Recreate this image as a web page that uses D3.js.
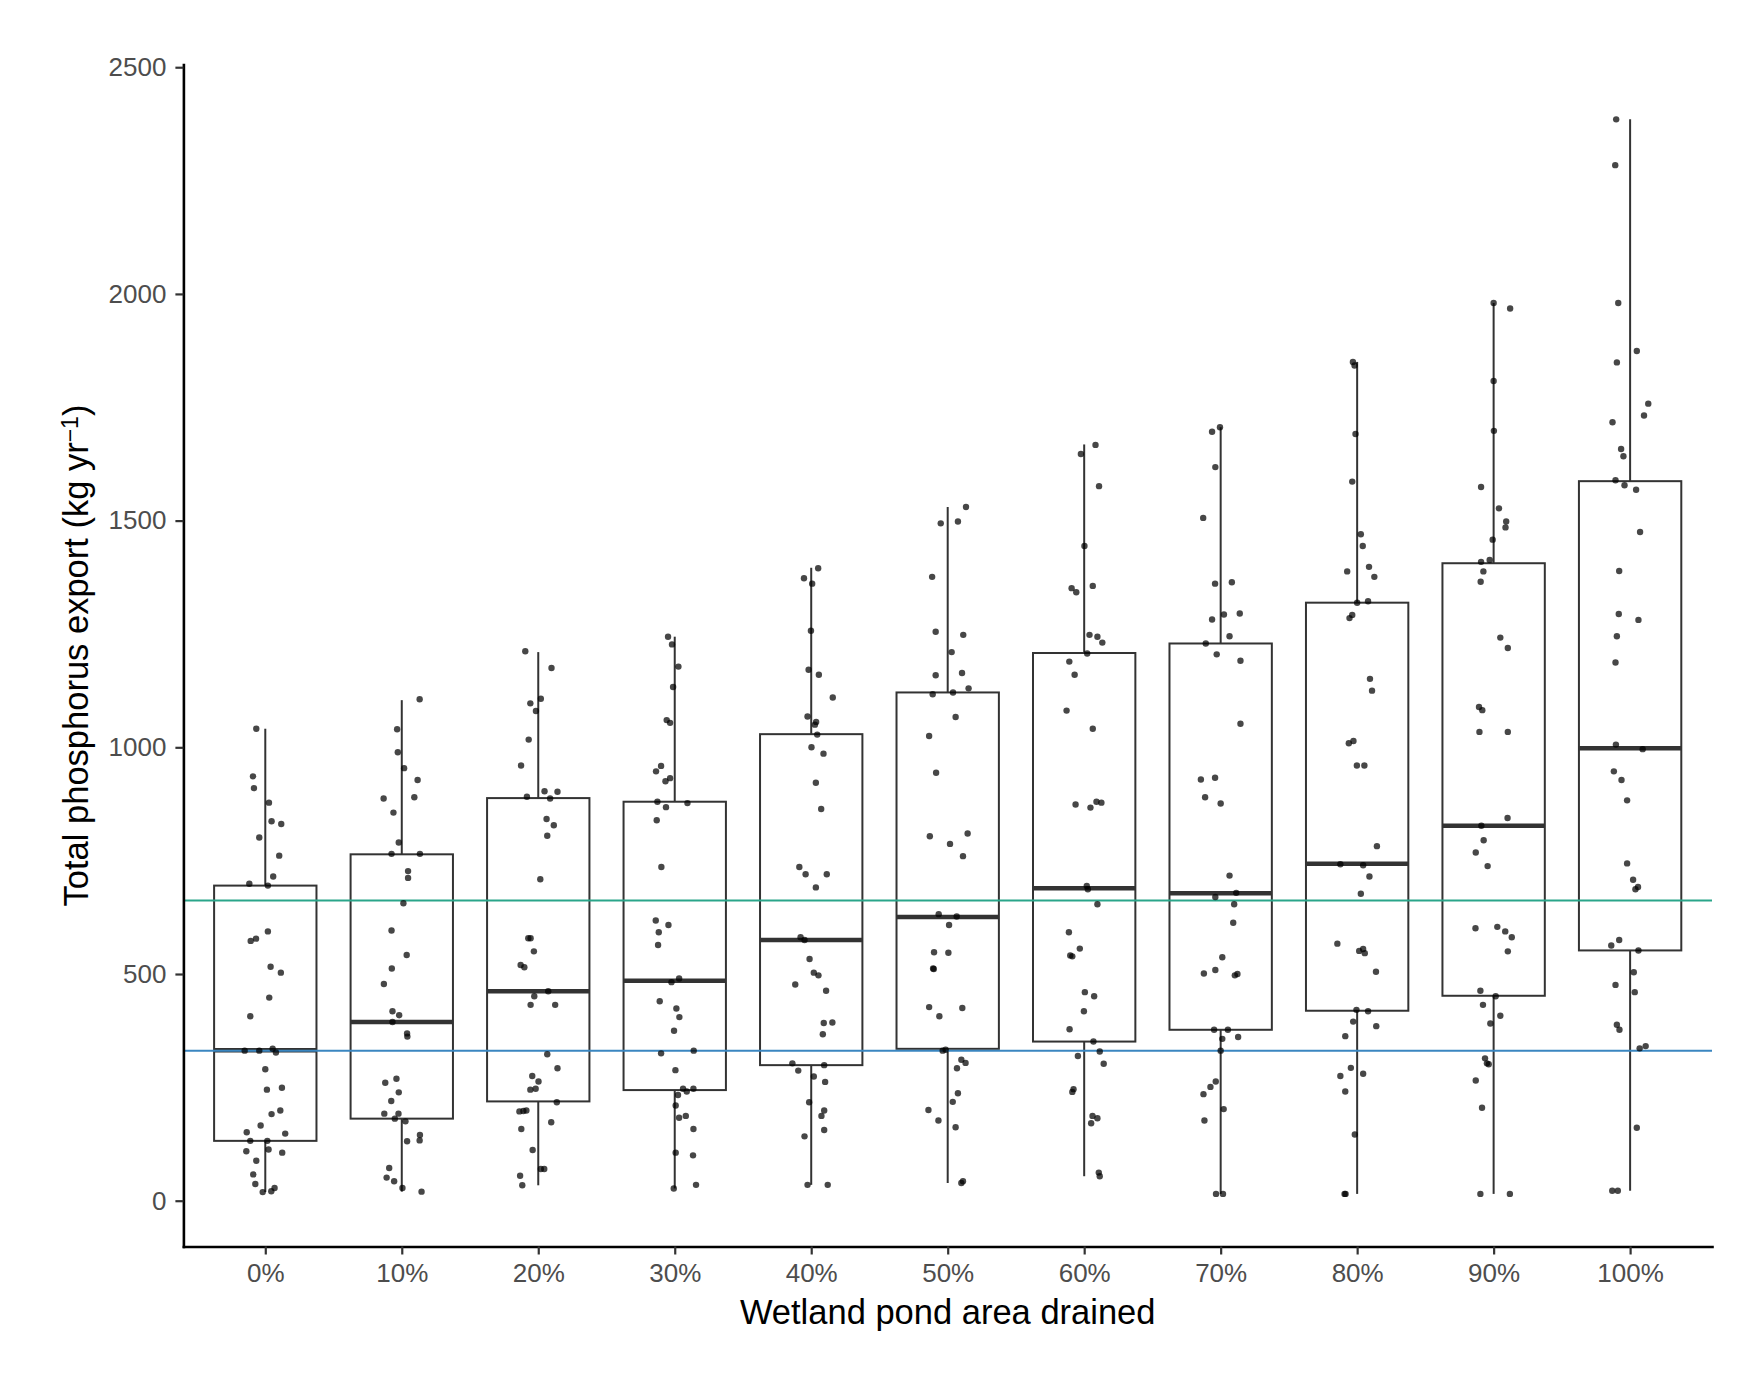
<!DOCTYPE html>
<html>
<head>
<meta charset="utf-8">
<script src="https://cdn.jsdelivr.net/npm/d3@7"></script>
<style>
  body { margin: 0; background: #fff; }
  svg { display: block; }
  text { font-family: "Liberation Sans", Arial, Helvetica, sans-serif; }
</style>
</head>
<body>
<svg id="chart" width="1764" height="1374"></svg>
<script>
// ---------------- data ----------------
const categories = ["0%", "10%", "20%", "30%", "40%", "50%", "60%", "70%", "80%", "90%", "100%"];
const whiskerLow  = [19, 20, 34, 27, 35, 39, 54, 15, 15, 15, 22];
const q1          = [132, 181, 219, 244, 299, 335, 351, 377, 419, 452, 552];
const median      = [332, 394, 462, 485, 575, 626, 689, 678, 743, 827, 998];
const q3          = [695, 764, 888, 880, 1029, 1121, 1208, 1229, 1319, 1406, 1587];
const whiskerHigh = [1041, 1104, 1210, 1244, 1396, 1530, 1668, 1706, 1850, 1980, 2385];
const yTicks = [0, 500, 1000, 1500, 2000, 2500];
const refLineValues = [662, 331];
const refLineColors = ["#2AA58A", "#3A86C0"];

// jittered observations per group: [value, horizontal jitter in category units]
const observations = [
  [[1041,-0.066],[936,-0.09],[910,-0.083],[878,0.027],[837,0.046],[831,0.117],[801,-0.044],[761,0.102],[715,0.058],[699,-0.117],[695,0.019],[594,0.019],[573,-0.107],[578,-0.068],[516,0.039],[503,0.114],[448,0.029],[407,-0.11],[331,-0.151],[331,-0.044],[335,0.054],[327,0.078],[290,0],[245,0.012],[249,0.122],[191,0.046],[199,0.11],[166,-0.034],[151,-0.136],[148,0.146],[132,-0.11],[132,0.015],[109,-0.139],[113,0.024],[106,0.124],[88,-0.066],[58,-0.088],[37,-0.073],[19,-0.019],[21,0.044],[28,0.068]],
  [[1106,0.131],[1040,-0.034],[989,-0.029],[954,0.017],[928,0.116],[887,-0.133],[890,0.092],[856,-0.061],[790,-0.022],[765,-0.075],[765,0.133],[727,0.046],[712,0.046],[656,0.012],[596,-0.075],[542,0.036],[512,-0.073],[478,-0.131],[418,-0.068],[409,-0.019],[394,-0.068],[369,0.039],[362,0.041],[260,-0.121],[269,-0.039],[239,-0.022],[220,-0.077],[192,-0.128],[192,-0.024],[181,-0.051],[175,0.027],[131,0.039],[145,0.133],[133,0.131],[72,-0.092],[51,-0.111],[43,-0.056],[28,0.005],[20,0.145]],
  [[1212,-0.095],[1175,0.097],[1097,-0.058],[1107,0.019],[1080,-0.017],[1017,-0.07],[960,-0.126],[891,-0.083],[903,0.046],[887,0.087],[902,0.141],[842,0.061],[828,0.114],[805,0.066],[709,0.015],[579,-0.073],[579,-0.056],[550,-0.032],[520,-0.129],[515,-0.102],[462,0.073],[451,-0.029],[432,-0.056],[432,0.124],[323,0.066],[292,0.141],[275,-0.044],[263,0.002],[245,-0.058],[247,-0.019],[217,0.136],[197,-0.138],[198,-0.109],[199,-0.087],[173,0.095],[158,-0.124],[112,-0.041],[70,0.019],[70,0.044],[55,-0.133],[34,-0.117]],
  [[1244,-0.049],[1227,-0.02],[1178,0.027],[1133,-0.012],[1060,-0.059],[1054,-0.034],[959,-0.1],[947,-0.137],[925,-0.068],[932,-0.034],[880,-0.127],[877,0.093],[868,-0.064],[839,-0.132],[736,-0.098],[618,-0.139],[608,-0.046],[592,-0.117],[564,-0.122],[490,0.032],[482,-0.024],[440,-0.11],[424,0.012],[405,0.034],[375,-0.005],[325,-0.1],[331,0.139],[288,0.005],[247,0.061],[241,0.088],[247,0.137],[233,0.024],[210,0.007],[183,0.032],[187,0.081],[158,0.137],[106,0.007],[100,0.134],[35,0.156],[27,-0.007]],
  [[1395,0.051],[1373,-0.053],[1361,0.007],[1257,-0.002],[1171,-0.019],[1160,0.056],[1110,0.158],[1068,-0.027],[1050,0.027],[1056,0.036],[1028,0.044],[1000,0.002],[986,0.09],[922,0.034],[864,0.073],[736,-0.087],[720,-0.041],[720,0.114],[691,0.034],[581,-0.078],[575,-0.049],[533,-0.012],[503,0.019],[497,0.053],[477,-0.117],[463,0.109],[392,0.092],[393,0.155],[367,0.085],[303,-0.138],[287,-0.095],[299,0.095],[274,0.019],[262,0.102],[217,-0.015],[199,0.095],[187,0.075],[142,-0.049],[156,0.095],[35,-0.027],[35,0.121]],
  [[1530,0.134],[1494,-0.051],[1498,0.075],[1376,-0.114],[1255,-0.088],[1248,0.114],[1210,0.029],[1159,-0.088],[1164,0.105],[1130,0.153],[1117,-0.11],[1121,0.039],[1067,0.058],[1025,-0.136],[944,-0.085],[804,-0.131],[787,0.017],[810,0.146],[760,0.112],[632,-0.066],[627,0.066],[608,0.01],[548,-0.1],[547,0.005],[512,-0.107],[511,-0.102],[427,-0.136],[425,0.107],[407,-0.061],[331,-0.037],[333,-0.015],[311,0.1],[304,0.131],[292,0.068],[237,0.075],[218,0.037],[200,-0.141],[177,-0.068],[162,0.058],[39,0.1],[43,0.112]],
  [[1667,0.083],[1647,-0.024],[1576,0.109],[1444,0.002],[1351,-0.092],[1342,-0.058],[1356,0.063],[1248,0.039],[1244,0.097],[1231,0.133],[1207,0.022],[1189,-0.109],[1160,-0.07],[1081,-0.129],[1041,0.063],[874,-0.063],[867,0.046],[880,0.09],[878,0.126],[694,0.019],[687,0.027],[654,0.097],[592,-0.112],[556,-0.032],[541,-0.102],[539,-0.087],[460,0.005],[451,0.073],[418,-0.002],[378,-0.107],[351,0.068],[329,0.114],[319,-0.046],[302,0.143],[246,-0.078],[240,-0.087],[187,0.061],[182,0.097],[171,0.051],[62,0.107],[54,0.114]],
  [[1696,-0.063],[1706,-0.005],[1618,-0.039],[1506,-0.128],[1361,-0.041],[1364,0.082],[1282,-0.063],[1293,0.024],[1295,0.14],[1245,0.065],[1229,-0.109],[1205,-0.029],[1191,0.145],[1052,0.145],[929,-0.145],[933,-0.041],[890,-0.114],[876,0],[717,0.065],[679,0.114],[670,-0.039],[654,0.099],[613,0.092],[537,0.012],[501,-0.123],[509,-0.039],[497,0.104],[500,0.123],[377,-0.048],[377,0.053],[357,0.012],[361,0.128],[331,0],[263,-0.036],[251,-0.075],[235,-0.126],[202,0.022],[177,-0.119],[15,-0.034],[15,0.017]],
  [[1850,-0.031],[1842,-0.019],[1691,-0.012],[1586,-0.036],[1470,0.027],[1444,0.041],[1388,-0.073],[1398,0.087],[1376,0.126],[1319,0],[1322,0.08],[1285,-0.056],[1292,-0.036],[1151,0.094],[1125,0.109],[1009,-0.061],[1014,-0.027],[960,-0.002],[960,0.053],[782,0.145],[742,-0.123],[740,0.044],[715,0.09],[677,0.027],[567,-0.145],[551,0.015],[555,0.044],[546,0.056],[505,0.138],[421,-0.005],[418,0.08],[395,-0.029],[385,0.14],[363,-0.087],[293,-0.046],[280,0.044],[275,-0.123],[241,-0.087],[146,-0.017],[15,-0.092],[15,-0.085]],
  [[1980,0],[1968,0.121],[1808,0],[1698,0.002],[1574,-0.092],[1527,0.039],[1498,0.092],[1485,0.087],[1458,-0.007],[1409,-0.092],[1413,-0.029],[1388,-0.075],[1365,-0.095],[1242,0.049],[1219,0.104],[1089,-0.107],[1082,-0.083],[1034,-0.104],[1034,0.104],[844,0.102],[827,-0.09],[795,-0.073],[768,-0.131],[738,-0.044],[601,-0.133],[604,0.027],[594,0.085],[581,0.133],[550,0.104],[463,-0.097],[432,-0.078],[451,0.015],[408,0.049],[391,-0.024],[314,-0.063],[303,-0.049],[301,-0.036],[265,-0.131],[205,-0.085],[15,-0.097],[15,0.119]],
  [[2385,-0.102],[2284,-0.109],[1980,-0.087],[1874,0.049],[1849,-0.097],[1758,0.133],[1732,0.102],[1717,-0.129],[1658,-0.066],[1642,-0.049],[1589,-0.107],[1578,-0.041],[1568,0.044],[1475,0.073],[1389,-0.08],[1294,-0.083],[1281,0.061],[1245,-0.097],[1187,-0.107],[1006,-0.104],[996,0.092],[947,-0.119],[928,-0.063],[883,-0.022],[744,-0.022],[708,0.022],[687,0.039],[692,0.058],[563,-0.138],[575,-0.08],[552,0.061],[504,0.027],[476,-0.107],[460,0.034],[388,-0.097],[377,-0.078],[336,0.07],[341,0.114],[161,0.049],[22,-0.131],[22,-0.09]]
];

// ---------------- layout ----------------
const panel = { left: 183.4, right: 1712, top: 64.5, bottom: 1246.5 };
const svg = d3.select("#chart");

const x = d3.scalePoint().domain(categories).range([panel.left, panel.right]).padding(0.6);
const step = x.step();
const boxW = 0.75 * step;
const y = d3.scaleLinear().domain([-101, 2506]).range([panel.bottom, panel.top]);

const groups = categories.map((c, i) => ({
  cat: c, lo: whiskerLow[i], q1: q1[i], med: median[i], q3: q3[i], hi: whiskerHigh[i], obs: observations[i]
}));

// boxes
const g = svg.append("g");
const bx = g.selectAll("g.box").data(groups).join("g").attr("class", "box");
bx.append("line")
  .attr("x1", d => x(d.cat)).attr("x2", d => x(d.cat))
  .attr("y1", d => y(d.hi)).attr("y2", d => y(d.q3))
  .attr("stroke", "#333").attr("stroke-width", 2);
bx.append("line")
  .attr("x1", d => x(d.cat)).attr("x2", d => x(d.cat))
  .attr("y1", d => y(d.q1)).attr("y2", d => y(d.lo))
  .attr("stroke", "#333").attr("stroke-width", 2);
bx.append("rect")
  .attr("x", d => x(d.cat) - boxW / 2).attr("width", boxW)
  .attr("y", d => y(d.q3)).attr("height", d => y(d.q1) - y(d.q3))
  .attr("fill", "#fff").attr("stroke", "#333").attr("stroke-width", 2);
bx.append("line")
  .attr("x1", d => x(d.cat) - boxW / 2).attr("x2", d => x(d.cat) + boxW / 2)
  .attr("y1", d => y(d.med)).attr("y2", d => y(d.med))
  .attr("stroke", "#333").attr("stroke-width", 4.5);

// reference lines
svg.append("g").selectAll("line").data(refLineValues).join("line")
  .attr("x1", panel.left).attr("x2", panel.right)
  .attr("y1", d => y(d)).attr("y2", d => y(d))
  .attr("stroke", (d, i) => refLineColors[i]).attr("stroke-width", 2);

// jittered points
const pts = groups.flatMap(d => d.obs.map(o => ({ cat: d.cat, v: o[0], j: o[1] })));
svg.append("g").selectAll("circle").data(pts).join("circle")
  .attr("cx", d => x(d.cat) + d.j * step)
  .attr("cy", d => y(d.v))
  .attr("r", 3.2)
  .attr("fill", "#000").attr("fill-opacity", 0.72);

// axes
const yAxis = d3.axisLeft(y).tickValues(yTicks).tickFormat(d3.format("d"))
  .tickSize(8).tickSizeOuter(0).tickPadding(9);
const xAxis = d3.axisBottom(x).tickSize(8).tickSizeOuter(0).tickPadding(9);

const ya = svg.append("g").attr("transform", `translate(${panel.left},0)`).call(yAxis);
const xa = svg.append("g").attr("transform", `translate(0,${panel.bottom})`).call(xAxis);
[ya, xa].forEach(a => {
  a.select(".domain").attr("stroke", "#000").attr("stroke-width", 2.6).attr("stroke-linecap", "square");
  a.selectAll(".tick line").attr("stroke", "#333").attr("stroke-width", 2.2);
  a.selectAll(".tick text").attr("fill", "#4D4D4D").style("font-size", "26px")
    .style("font-family", '"Liberation Sans", Arial, Helvetica, sans-serif');
});

// axis titles
svg.append("text")
  .attr("x", (panel.left + panel.right) / 2).attr("y", 1324)
  .attr("text-anchor", "middle").style("font-size", "34.5px").attr("fill", "#000")
  .text("Wetland pond area drained");

const yt = svg.append("text")
  .attr("transform", `translate(88,${(panel.top + panel.bottom) / 2}) rotate(-90)`)
  .attr("text-anchor", "middle").style("font-size", "34.5px").attr("fill", "#000");
yt.append("tspan").text("Total phosphorus export (kg yr");
yt.append("tspan").attr("dy", "-0.45em").style("font-size", "23px").text("\u22121");
yt.append("tspan").attr("dy", "0.3em").text(")");
</script>
</body>
</html>
